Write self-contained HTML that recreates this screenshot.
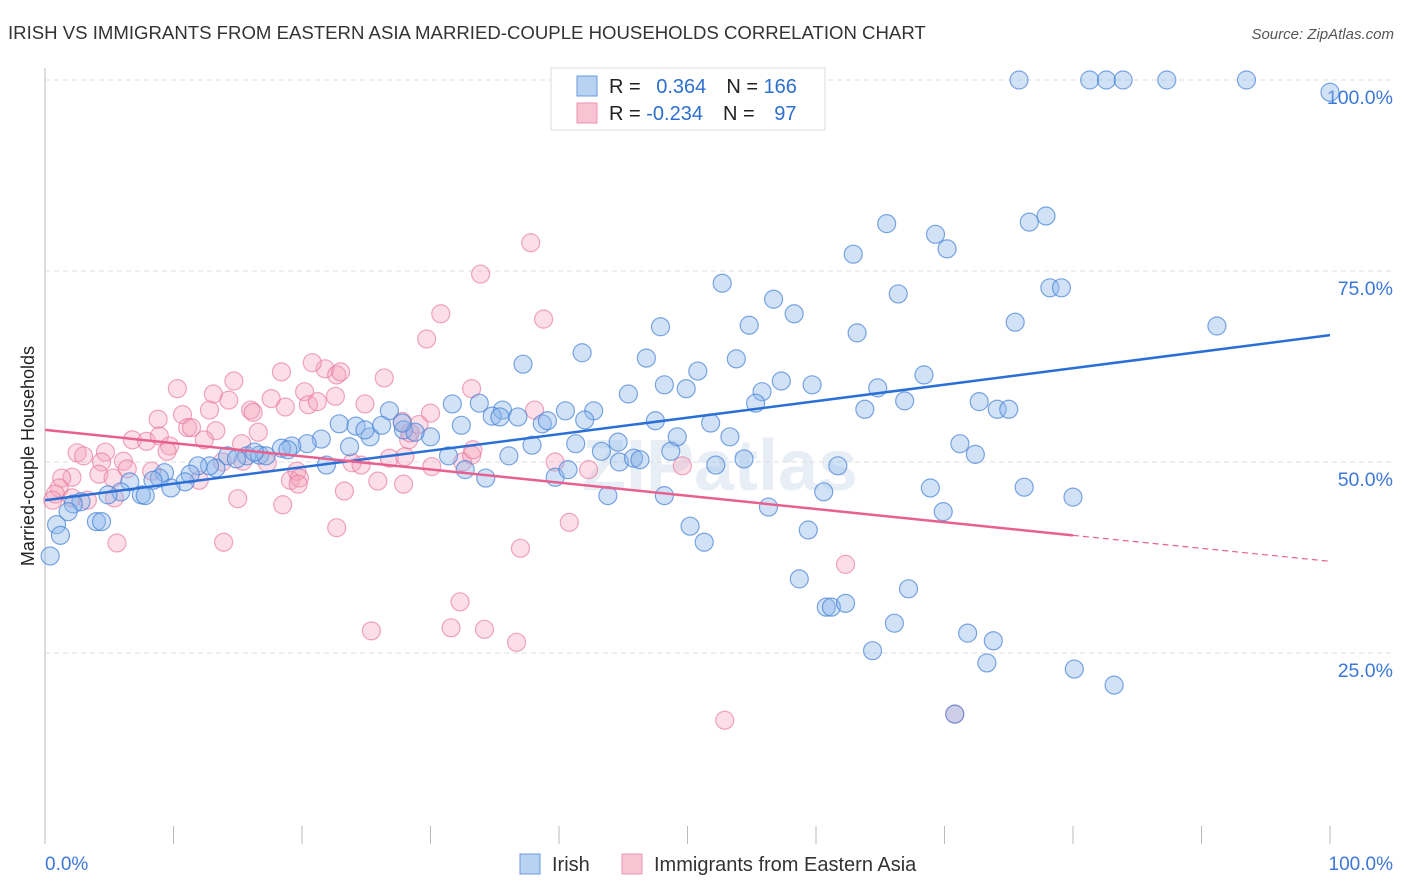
<!DOCTYPE html>
<html><head><meta charset="utf-8"><style>
body{margin:0;background:#fff;font-family:"Liberation Sans",sans-serif}
svg{display:block}
</style></head><body>
<svg id="chart" width="1406" height="892">
<text x="8" y="39" font-size="18.6" fill="#333">IRISH VS IMMIGRANTS FROM EASTERN ASIA MARRIED-COUPLE HOUSEHOLDS CORRELATION CHART</text>
<text x="1394" y="39" font-size="15" fill="#555" font-style="italic" text-anchor="end">Source: ZipAtlas.com</text>
<text x="720" y="490" font-size="72" fill="#e8eef6" text-anchor="middle" font-weight="bold">ZIPatlas</text>
<g id="grid"></g>
<g id="marks"></g>
<g id="lines"></g>
<text transform="translate(34,456) rotate(-90)" font-size="18" fill="#222" text-anchor="middle">Married-couple Households</text>
<g>
<rect x="551" y="68" width="274" height="62" fill="#fff" stroke="#ddd"/>
<rect x="577" y="76" width="20" height="20" fill="#b8d2f2" stroke="#6a9ae0"/>
<rect x="577" y="103" width="20" height="20" fill="#f8c4d4" stroke="#ec94b0"/>
<text x="609" y="93" font-size="20" fill="#222">R = <tspan fill="#2d6fd0" dx="10">0.364</tspan><tspan dx="20" fill="#222">N = </tspan><tspan fill="#2d6fd0">166</tspan></text>
<text x="609" y="120" font-size="20" fill="#222">R = <tspan fill="#2d6fd0">-0.234</tspan><tspan dx="20" fill="#222">N = </tspan><tspan fill="#2d6fd0" dx="14">97</tspan></text>
</g>
<g>
<rect x="520" y="854" width="20" height="20" fill="#b8d2f2" stroke="#6a9ae0"/>
<text x="552" y="871" font-size="20" fill="#333">Irish</text>
<rect x="622" y="854" width="20" height="20" fill="#f8c4d4" stroke="#ec94b0"/>
<text x="654" y="871" font-size="20" fill="#333">Immigrants from Eastern Asia</text>
</g>
</svg>
<script>
const yTicks=[25,50,75,100];
const yTickLabels=["25.0%","50.0%","75.0%","100.0%"];
const xTicks=[0,10,20,30,40,50,60,70,80,90,100];
const irishX=[75.8,81.3,82.6,83.9,87.3,93.5,100,77.9,76.6,65.5,69.3,70.2,62.9,52.7,66.4,56.7,78.2,79.1,58.3,75.5,91.2,47.9,54.8,63.2,41.8,53.8,37.2,46.8,50.8,68.4,57.3,59.7,48.2,49.9,55.8,64.8,45.4,66.9,55.3,72.7,33.8,31.7,63.8,74.1,75.0,35.6,34.8,42.7,40.5,36.8,26.8,22.9,24.2,32.4,38.7,51.8,39.1,25.3,27.9,30.0,21.5,20.4,19.2,18.4,15.7,14.2,16.7,17.2,18.9,16.3,23.7,24.9,28.8,26.2,27.8,53.3,49.2,37.9,41.3,44.6,43.3,48.7,71.2,72.4,36.1,31.4,32.7,34.3,21.9,14.9,13.3,12.8,11.9,11.3,9.3,8.9,8.4,10.9,9.8,6.6,5.9,4.9,7.5,7.8,2.8,2.2,1.8,0.9,4.0,4.4,1.2,0.4,39.7,40.7,44.7,45.8,46.3,52.2,54.4,61.7,68.9,76.2,80.0,60.6,43.8,48.2,56.3,69.9,50.2,51.3,59.4,58.7,60.8,61.2,62.3,67.2,66.1,64.4,71.8,73.8,73.3,80.1,83.2,70.8,42.0,47.5,35.4];
const irishY=[100,100,100,100,100,100,98.4,82.2,81.4,81.2,79.8,77.9,77.2,73.4,72.0,71.3,72.8,72.8,69.4,68.3,67.8,67.7,67.9,66.9,64.3,63.5,62.8,63.6,61.9,61.4,60.6,60.1,60.1,59.6,59.2,59.7,58.9,58.0,57.7,57.9,57.7,57.6,56.9,56.9,56.9,56.8,56.0,56.7,56.7,55.9,56.7,55.0,54.7,54.8,55.0,55.1,55.4,53.3,54.2,53.3,53.0,52.4,52.1,51.8,50.8,50.8,50.9,50.8,51.6,51.3,52.0,54.2,53.9,54.8,55.1,53.3,53.3,52.2,52.4,52.6,51.4,51.4,52.4,51.0,50.8,50.8,49.0,47.9,49.6,50.4,49.2,49.5,49.5,48.4,48.6,47.9,47.6,47.4,46.6,47.4,46.1,45.7,45.7,45.6,44.8,44.5,43.5,41.8,42.2,42.2,40.4,37.7,48.0,49.0,50.0,50.5,50.3,49.6,50.4,49.5,46.6,46.7,45.4,46.1,45.6,45.6,44.1,43.5,41.6,39.5,41.1,34.7,31.0,31.0,31.5,33.4,28.9,25.3,27.6,26.6,23.7,22.9,20.8,17.0,55.5,55.4,55.9];
const asiaX=[37.8,33.9,38.8,30.8,29.7,33.2,21.8,22.7,23.0,20.8,26.4,18.4,10.3,13.1,14.7,20.2,22.6,24.9,17.6,16.0,16.2,20.5,21.2,8.8,10.7,12.8,11.1,11.4,13.3,16.6,15.3,6.8,7.9,8.9,9.7,12.4,9.5,2.5,3.0,4.7,6.1,4.4,6.4,8.3,13.8,15.4,19.6,17.3,23.9,24.6,26.8,28.0,32.5,39.7,42.3,49.6,4.2,5.3,2.1,1.3,1.1,0.8,0.6,2.1,3.3,5.4,12.0,19.1,19.8,19.7,25.9,27.9,30.1,28.3,30.0,29.1,38.1,27.8,33.2,33.3,23.3,15.0,18.5,22.7,5.6,13.9,40.8,37.0,32.3,62.3,31.6,34.2,25.4,36.7,52.9,70.8,28.4,18.7,14.3];
const asiaY=[78.7,74.6,68.7,69.4,66.1,59.6,62.2,61.4,61.8,63.0,61.0,61.8,59.6,58.9,60.6,59.2,58.6,57.6,58.3,56.8,56.5,57.5,57.9,55.6,56.2,56.8,54.5,54.5,54.1,53.9,52.4,52.9,52.7,53.4,52.1,52.9,51.4,51.2,50.8,51.3,50.1,50.0,49.1,48.8,50.0,50.1,48.8,49.9,49.9,49.6,50.5,50.7,50.0,50.0,49.0,49.5,48.4,47.9,48.0,47.9,46.6,45.8,45.0,45.3,45.0,45.3,47.6,47.6,47.9,47.1,47.5,47.1,49.4,52.9,56.4,54.9,56.8,55.3,50.9,51.6,46.2,45.2,44.4,41.4,39.4,39.5,42.1,38.7,31.7,36.6,28.3,28.1,27.9,26.4,16.2,17.0,53.8,57.2,58.1];
const irishTrend=[[0,45.0],[100,66.6]];
const asiaTrend=[[0,54.2],[80,40.4],[100,37.0]];

const NS="http://www.w3.org/2000/svg";
const X0=45,X1=1330,Y0=844,Y100=80;
const sx=v=>X0+(X1-X0)*v/100;
const sy=v=>Y0-(Y0-Y100)*v/100;
function mk(tag,attrs,parent){const e=document.createElementNS(NS,tag);for(const k in attrs)e.setAttribute(k,attrs[k]);parent.appendChild(e);return e;}
const grid=document.getElementById('grid');
const ax=mk('line',{x1:X0,y1:68,x2:X0,y2:Y0,stroke:'#bbb'},grid);


yTicks.forEach((t,i)=>{
  const g=mk('line',{x1:X0,y1:sy(t),x2:1394,y2:sy(t),stroke:'#ddd','stroke-dasharray':'5,4'},grid);
  
  
  const l=mk('text',{x:1393,y:sy(t)+24,'font-size':19.5,fill:'#3b78d8','text-anchor':'end'},grid);
  l.textContent=yTickLabels[i];
  
  
});
xTicks.forEach(t=>{
  const k=mk('line',{x1:sx(t),y1:826,x2:sx(t),y2:Y0,stroke:'#bbb'},grid);
  
  
});
const xl0=mk('text',{x:45,y:870,'font-size':19,fill:'#3b78d8'},grid);xl0.textContent='0.0%';


const xl1=mk('text',{x:1393,y:870,'font-size':19,fill:'#3b78d8','text-anchor':'end'},grid);xl1.textContent='100.0%';


const marks=document.getElementById('marks');
asiaX.forEach((v,i)=>{
  const c=mk('circle',{cx:sx(v),cy:sy(asiaY[i]),r:9,fill:'rgba(244,160,186,0.35)',stroke:'rgba(232,120,156,0.65)','stroke-width':1.2},marks);
  
  
});
irishX.forEach((v,i)=>{
  const c=mk('circle',{cx:sx(v),cy:sy(irishY[i]),r:9,fill:'rgba(140,182,236,0.4)',stroke:'rgba(70,130,214,0.7)','stroke-width':1.2},marks);
  
  
});
const lines=document.getElementById('lines');
const bl=mk('line',{x1:sx(irishTrend[0][0]),y1:sy(irishTrend[0][1]),x2:sx(irishTrend[1][0]),y2:sy(irishTrend[1][1]),stroke:'#2a6fd6','stroke-width':2.5},lines);


const pl=mk('line',{x1:sx(asiaTrend[0][0]),y1:sy(asiaTrend[0][1]),x2:sx(asiaTrend[1][0]),y2:sy(asiaTrend[1][1]),stroke:'#e8608e','stroke-width':2.5},lines);


const pd=mk('line',{x1:sx(asiaTrend[1][0]),y1:sy(asiaTrend[1][1]),x2:sx(asiaTrend[2][0]),y2:sy(asiaTrend[2][1]),stroke:'#e8608e','stroke-width':1.2,'stroke-dasharray':'6,4'},lines);


</script>
</body></html>
